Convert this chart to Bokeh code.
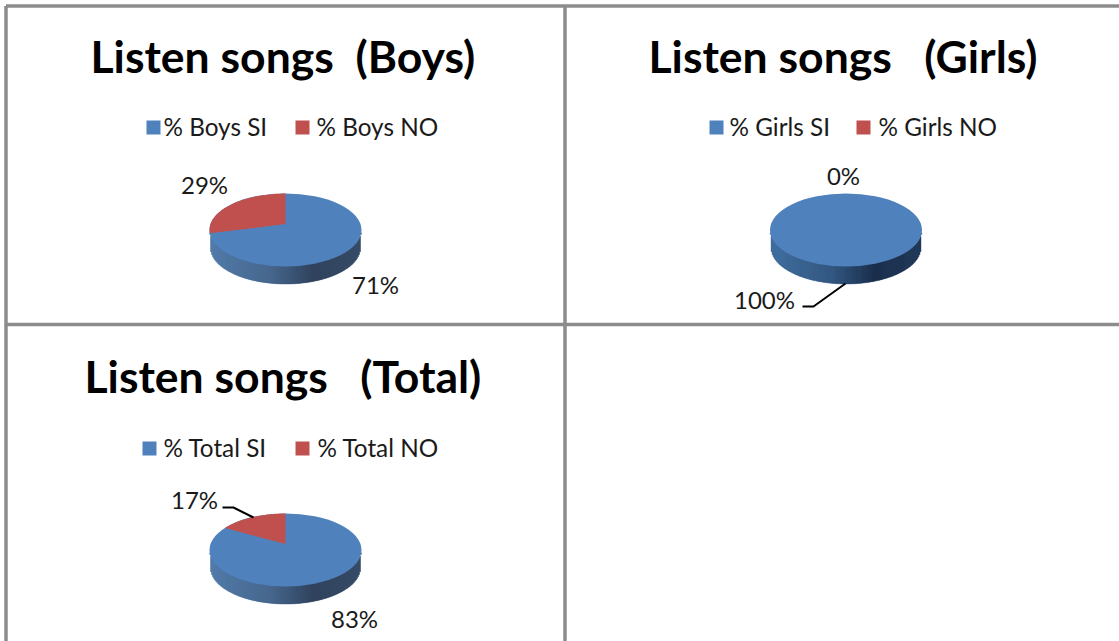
import math
from bokeh.core.properties import value
from bokeh.embed import file_html
from bokeh.models import Range1d
from bokeh.plotting import figure
from bokeh.resources import INLINE

# ---------- data ----------
titles = ["Listen songs\u00a0\u00a0(Boys)", "Listen songs\u00a0\u00a0\u00a0(Girls)", "Listen songs\u00a0\u00a0\u00a0(Total)"]
si_names = ["% Boys SI", "% Girls SI", "% Total SI"]
no_names = ["% Boys NO", "% Girls NO", "% Total NO"]
si_values = [71, 100, 83]
no_values = [29, 0, 17]

# ---------- layout (pixel space of the page) ----------
W, H = 1119, 641
BLUE, RED, GRID = "#4f81bd", "#c0504d", "#8c8c8c"
FONT = value("Lato")
RX, RY, DEPTH = 76, 36.5, 17.5
RX2 = 75
centers = [(285, 229.5), (845.5, 229.5), (285, 549.5)]
title_pos = [(90, 55), (648, 55), (84, 375)]
legend_si = [(146, 127, 163), (709, 127, 729), (142, 448, 163)]
legend_no = [(295, 127, 316), (856, 127, 878), (295, 448, 317)]
si_label_pos = [(375, 284), (764, 299), (354, 618)]
no_label_pos = [(204, 184), (843, 175), (194, 499)]
leaders = [None, ([802, 813, 845], [306, 306, 283]), ([222, 233, 253], [507, 507, 517])]
grad = [(0.0, (64, 110, 160)), (0.4, (52, 88, 130)), (0.68, (28, 48, 78)), (1.0, (34, 58, 88))]

p = figure(width=W, height=H, output_backend="svg", toolbar_location=None,
           x_range=Range1d(0, W), y_range=Range1d(H, 0), min_border=0,
           outline_line_color=None, background_fill_color="white")
p.axis.visible = False
p.grid.visible = False
p.styles = {"position": "absolute", "left": "0", "top": "0"}


def grad_color(u):
    for (a, ca), (b, cb) in zip(grad, grad[1:]):
        if u <= b:
            k = (u - a) / (b - a)
            return "#%02x%02x%02x" % tuple(round(x + (y - x) * k) for x, y in zip(ca, cb))
    return "#%02x%02x%02x" % grad[-1][1]


def wedge(cx, cy, pct):
    """Apparent slice of the tilted pie, starting at the top and running anticlockwise."""
    th = 2 * math.pi * pct / 100
    dx, dy = -math.sin(th) * RX, -math.cos(th) * RY
    off = -6.0
    a = dx * dx / RX ** 2 + dy * dy / RY ** 2
    b = 2 * off * dy / RY ** 2
    c = off * off / RY ** 2 - 1
    s = (-b + math.sqrt(b * b - 4 * a * c)) / (2 * a)
    ex, ey = dx * s, off + dy * s
    t_end = math.atan2(-ex / RX, -ey / RY)
    n = 60
    xs = [cx] + [cx - RX * math.sin(t_end * i / n) for i in range(n + 1)]
    ys = [cy + off] + [cy - RY * math.cos(t_end * i / n) for i in range(n + 1)]
    return xs, ys


for (cx, cy), tt, tp, ls, ln, sn, nn, sv, nv, sp, np_, lead in zip(
        centers, titles, title_pos, legend_si, legend_no, si_names, no_names,
        si_values, no_values, si_label_pos, no_label_pos, leaders):
    # side of the pie
    lefts, rights, tops, bottoms, cols = [], [], [], [], []
    for i in range(2 * RX):
        x = -RX + i + 0.5
        top = cy + RY * math.sqrt(max(0, 1 - (x / RX) ** 2))
        if abs(x) < RX2:
            bot = cy + DEPTH + RY * math.sqrt(1 - (x / RX2) ** 2)
        else:
            bot = top
        lefts.append(cx + x - 0.5)
        rights.append(cx + x + 0.5)
        tops.append(top - 1)
        bottoms.append(bot)
        cols.append(grad_color(i / (2 * RX)))
    p.quad(left=lefts, right=rights, top=tops, bottom=bottoms, fill_color=cols, line_color=cols, line_width=0.4)

    # top face
    p.ellipse(x=[cx], y=[cy], width=[2 * RX], height=[2 * RY], fill_color=BLUE, line_color=None)
    if nv > 0:
        xs, ys = wedge(cx, cy, nv)
        p.patch(xs, ys, fill_color=RED, line_color=None)

    # title
    p.text(x=[tp[0]], y=[tp[1]], text=[tt], text_font=FONT, text_font_style="bold",
           text_font_size="44.5px", text_color="#000000", text_baseline="middle", text_align="left")

    # legend
    for (sx, sy, tx), name, col in ((ls, sn, BLUE), (ln, nn, RED)):
        p.rect(x=[sx + 7], y=[sy], width=[14], height=[14], fill_color=col, line_color=None)
        p.text(x=[tx], y=[sy - 1.5], text=[name], text_font=FONT, text_font_size="24.3px",
               text_color="#1a1a1a", text_baseline="middle", text_align="left")

    # slice labels
    p.text(x=[sp[0]], y=[sp[1]], text=[f"{sv}%"], text_font=FONT, text_font_size="24px",
           text_color="#1a1a1a", text_baseline="middle", text_align="center")
    p.text(x=[np_[0]], y=[np_[1]], text=[f"{nv}%"], text_font=FONT, text_font_size="24px",
           text_color="#1a1a1a", text_baseline="middle", text_align="center")
    if lead:
        p.line(lead[0], lead[1], line_color="#000000", line_width=2)

# table rules
p.segment(x0=[5.5, 5.5, 5.5, 564.5], y0=[5.5, 324, 5.5, 5.5], x1=[W, W, 5.5, 564.5], y1=[5.5, 324, H, H],
          line_color=GRID, line_width=3.5)

open("out.html", "w").write(file_html(p, INLINE))
